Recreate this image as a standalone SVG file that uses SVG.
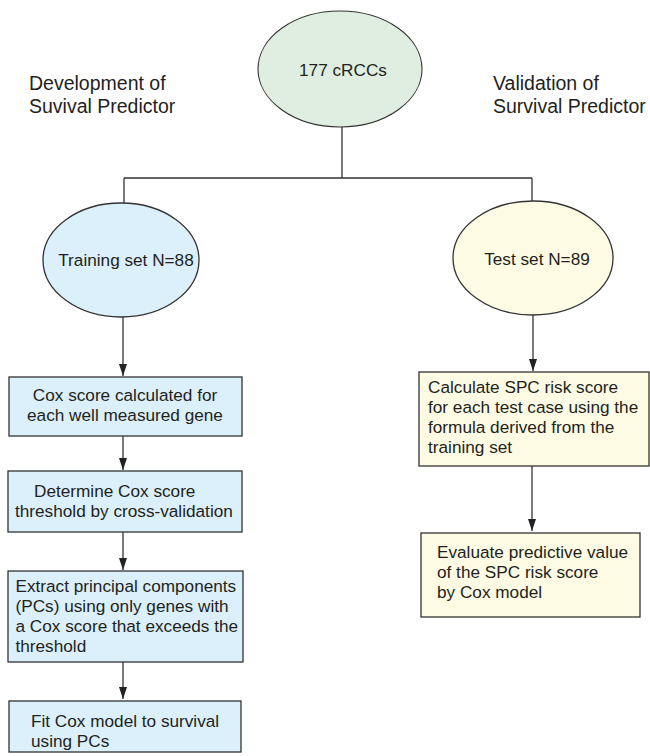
<svg xmlns="http://www.w3.org/2000/svg" width="650" height="756" viewBox="0 0 650 756">
<defs>
<marker id="arr" viewBox="0 0 12 8" refX="12" refY="4" markerWidth="12" markerHeight="8" markerUnits="userSpaceOnUse" orient="auto">
<path d="M0,0 L12,4 L0,8 Z" fill="#222"/>
</marker>
<style>
.t{font-family:"Liberation Sans",Arial,sans-serif;font-size:17.2px;fill:#231f20}
.h{font-family:"Liberation Sans",Arial,sans-serif;font-size:19.5px;fill:#231f20}
.g{fill:#dfeee0;stroke:#333;stroke-width:1.1}
.b{fill:#dcf0fb;stroke:#333;stroke-width:1.3}
.y{fill:#fdfbe3;stroke:#333;stroke-width:1.3}
.c{stroke:#333;stroke-width:1.3;fill:none}
</style>
</defs>
<rect width="650" height="756" fill="#fff"/>
<g id="labels">
<text class="h" x="29" y="90">Development of</text>
<text class="h" x="29" y="113">Suvival Predictor</text>
<text class="h" x="493" y="90">Validation of</text>
<text class="h" x="493" y="113">Survival Predictor</text>
</g>
<g id="connectors">
<path class="c" d="M342,127 V178 M124,178 H532 M124,178 V203 M532,178 V201"/>
<path class="c" d="M123,317 V376" marker-end="url(#arr)"/>
<path class="c" d="M123,436 V470" marker-end="url(#arr)"/>
<path class="c" d="M123,532 V570" marker-end="url(#arr)"/>
<path class="c" d="M123,662 V699" marker-end="url(#arr)"/>
<path class="c" d="M533,315 V371" marker-end="url(#arr)"/>
<path class="c" d="M532,466 V531" marker-end="url(#arr)"/>
</g>
<g id="n-root">
<ellipse class="g" cx="340" cy="69" rx="82" ry="58"/>
<text class="t" x="343" y="76" text-anchor="middle">177 cRCCs</text>
</g>
<g id="n-train">
<ellipse class="b" cx="121" cy="260" rx="78" ry="57"/>
<text class="t" x="126" y="266" text-anchor="middle">Training set N=88</text>
</g>
<g id="n-test">
<ellipse class="y" cx="533" cy="258" rx="80" ry="57"/>
<text class="t" x="537" y="265" text-anchor="middle">Test set N=89</text>
</g>
<g id="n-cox">
<rect class="b" x="9" y="377" width="233" height="59"/>
<text class="t" x="125" y="401" text-anchor="middle">Cox score calculated for</text>
<text class="t" x="125" y="421" text-anchor="middle">each well measured gene</text>
</g>
<g id="n-threshold">
<rect class="b" x="8" y="471" width="234" height="61"/>
<text class="t" x="34" y="497">Determine Cox score</text>
<text class="t" x="15" y="517">threshold by cross-validation</text>
</g>
<g id="n-pcs">
<rect class="b" x="8" y="571" width="235" height="91"/>
<text class="t" x="15.5" y="592">Extract principal components</text>
<text class="t" x="15.5" y="612">(PCs) using only genes with</text>
<text class="t" x="15.5" y="632">a Cox score that exceeds the</text>
<text class="t" x="15.5" y="652">threshold</text>
</g>
<g id="n-fit">
<rect class="b" x="9" y="701" width="232" height="51"/>
<text class="t" x="31" y="727">Fit Cox model to survival</text>
<text class="t" x="31" y="747">using PCs</text>
</g>
<g id="n-spc">
<rect class="y" x="419" y="372" width="230" height="94"/>
<text class="t" x="428" y="393">Calculate SPC risk score</text>
<text class="t" x="428" y="413">for each test case using the</text>
<text class="t" x="428" y="433">formula derived from the</text>
<text class="t" x="428" y="453">training set</text>
</g>
<g id="n-eval">
<rect class="y" x="421" y="533" width="219" height="84"/>
<text class="t" x="437" y="558">Evaluate predictive value</text>
<text class="t" x="437" y="578">of the SPC risk score</text>
<text class="t" x="437" y="598">by Cox model</text>
</g>
</svg>
